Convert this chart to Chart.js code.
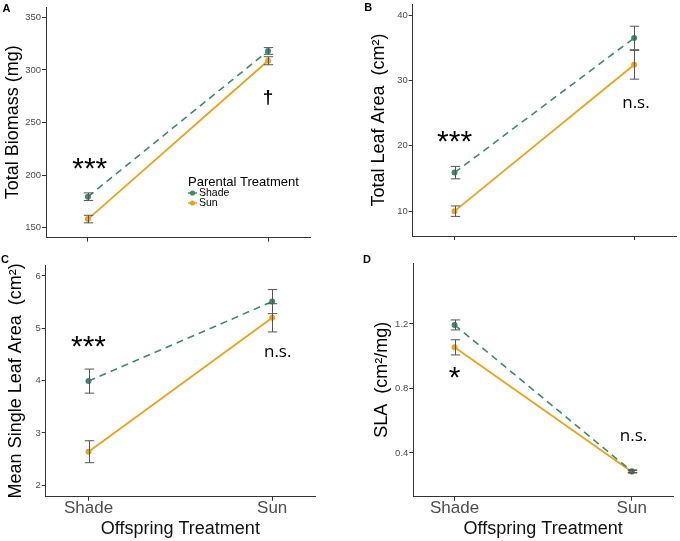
<!DOCTYPE html>
<html><head><meta charset="utf-8">
<script src="https://cdn.jsdelivr.net/npm/chart.js@4.4.1/dist/chart.umd.min.js"></script>
<style>
html,body{margin:0;padding:0;background:#fff;}
#wrap{position:relative;width:680px;height:541px;overflow:hidden;background:#fff;}
canvas{position:absolute;}
</style></head><body>
<div id="wrap">
<canvas id="cA" width="340" height="250" style="left:0;top:0"></canvas>
<canvas id="cB" width="340" height="250" style="left:340px;top:0"></canvas>
<canvas id="cC" width="340" height="291" style="left:0;top:250px"></canvas>
<canvas id="cD" width="340" height="291" style="left:340px;top:250px"></canvas>
</div>
<script>
// ---------- data ----------
const categories = ['Shade', 'Sun'];            // offspring treatment
const parentalTreatments = ['Shade', 'Sun'];    // legend / series

const biomassShade   = [179.5, 318.0];
const biomassShadeSE = [3.6, 3.2];
const biomassSun     = [158.2, 308.7];
const biomassSunSE   = [3.6, 3.8];
const biomassTicks   = [150, 200, 250, 300, 350];

const leafAreaShade   = [15.9, 36.5];
const leafAreaShadeSE = [0.95, 1.8];
const leafAreaSun     = [10.0, 32.4];
const leafAreaSunSE   = [0.8, 2.2];
const leafAreaTicks   = [10, 20, 30, 40];

const singleLeafShade   = [3.99, 5.51];
const singleLeafShadeSE = [0.23, 0.23];
const singleLeafSun     = [2.64, 5.20];
const singleLeafSunSE   = [0.21, 0.27];
const singleLeafTicks   = [2, 3, 4, 5, 6];

const slaShade   = [1.194, 0.287];
const slaShadeSE = [0.031, 0.008];
const slaSun     = [1.055, 0.284];
const slaSunSE   = [0.047, 0.008];
const slaTicks   = [0.4, 0.8, 1.2];

// ---------- styling ----------
const SHADE = '#3b8a6e';
const SUN = '#e9a31c';
const ERR = '#555555';
const AXIS = '#333333';
const TICKTXT = '#4d4d4d';
const FAM = '"Liberation Sans", Arial, sans-serif';

function makePanel(id, o) {
  const overlay = {
    id: 'overlay_' + id,
    afterDatasetsDraw(chart) {
      const ctx = chart.ctx, xs = chart.scales.x, ys = chart.scales.y;
      ctx.save();
      // error bars
      chart.data.datasets.forEach(ds => {
        ds.data.forEach((p, i) => {
          const e = ds.se[i];
          const px = Math.round(xs.getPixelForValue(p.x)) + 0.5;
          const y1 = ys.getPixelForValue(p.y - e), y2 = ys.getPixelForValue(p.y + e);
          ctx.strokeStyle = ERR; ctx.lineWidth = 1;
          ctx.beginPath();
          ctx.moveTo(px, y1); ctx.lineTo(px, y2);
          ctx.moveTo(px - 4.7, y1); ctx.lineTo(px + 4.7, y1);
          ctx.moveTo(px - 4.7, y2); ctx.lineTo(px + 4.7, y2);
          ctx.stroke();
        });
      });
      // annotations (significance)
      o.notes.forEach(n => {
        ctx.font = n.font;
        ctx.fillStyle = '#000';
        ctx.textAlign = 'center';
        ctx.textBaseline = 'alphabetic';
        const m = ctx.measureText(n.text);
        const cx = xs.getPixelForValue(n.x);
        const cy = ys.getPixelForValue(n.y);
        const by = cy + (m.actualBoundingBoxAscent - m.actualBoundingBoxDescent) / 2;
        ctx.fillText(n.text, cx, by);
      });
      // panel letter
      ctx.font = 'bold 11px ' + FAM;
      ctx.fillStyle = '#000';
      ctx.textAlign = 'left';
      ctx.textBaseline = 'alphabetic';
      ctx.fillText(o.letter, o.letterX, o.letterY);
      // legend
      if (o.legend) {
        const L = o.legend;
        ctx.font = '13px ' + FAM;
        ctx.textBaseline = 'middle';
        ctx.fillStyle = '#000';
        ctx.fillText('Parental Treatment', L.x, L.y);
        const cols = [SHADE, SUN];
        parentalTreatments.forEach((name, i) => {
          const yy = L.y + 11 + i * 10;
          ctx.strokeStyle = cols[i]; ctx.lineWidth = 1.5;
          ctx.beginPath(); ctx.moveTo(L.x, yy); ctx.lineTo(L.x + 9, yy); ctx.stroke();
          ctx.fillStyle = cols[i];
          ctx.beginPath(); ctx.arc(L.x + 4.5, yy, 2.6, 0, Math.PI * 2); ctx.fill();
          ctx.fillStyle = '#000';
          ctx.font = '10.5px ' + FAM;
          ctx.fillText(name, L.x + 11, yy + 0.5);
        });
      }
      ctx.restore();
    }
  };

  const mk = (vals) => vals.map((v, i) => ({ x: i, y: v }));
  return new Chart(document.getElementById(id), {
    type: 'line',
    data: {
      datasets: [
        { label: parentalTreatments[0], data: mk(o.shade), se: o.shadeSE,
          borderColor: SHADE, backgroundColor: SHADE, borderWidth: 1.6, borderDash: [7, 5],
          pointRadius: 3, pointBorderWidth: 0, pointBackgroundColor: SHADE, tension: 0, order: 1 },
        { label: parentalTreatments[1], data: mk(o.sun), se: o.sunSE,
          borderColor: SUN, backgroundColor: SUN, borderWidth: 1.8,
          pointRadius: 3, pointBorderWidth: 0, pointBackgroundColor: SUN, tension: 0, order: 2 }
      ]
    },
    options: {
      responsive: false,
      animation: false,
      events: [],
      layout: { padding: { left: 0, right: o.padR, top: o.padT, bottom: 0 } },
      plugins: { legend: { display: false }, tooltip: { enabled: false }, title: { display: false } },
      scales: {
        x: {
          type: 'linear', min: -0.233, max: 1.233,
          afterBuildTicks: s => { s.ticks = categories.map((c, i) => ({ value: i })); },
          afterFit: s => { s.height = o.xh; s.paddingLeft = 0; s.paddingRight = 0; },
          ticks: { display: o.showX, callback: v => categories[v], color: TICKTXT,
                   font: { family: FAM, size: 17 }, padding: o.xTickPad, maxRotation: 0, autoSkip: false },
          grid: { display: true, drawOnChartArea: false, drawTicks: true, tickLength: 4, tickColor: AXIS, lineWidth: 1 },
          border: { display: true, color: AXIS, width: 1 },
          title: { display: o.showX, text: 'Offspring Treatment', color: '#111',
                   font: { family: FAM, size: 18 }, padding: { top: 0, bottom: 1 } }
        },
        y: {
          type: 'linear', min: o.ymin, max: o.ymax,
          afterBuildTicks: s => { s.ticks = o.ticks.map(v => ({ value: v })); },
          afterFit: s => { s.width = o.yw; s.paddingTop = 0; s.paddingBottom = 0; },
          ticks: { callback: v => String(v), color: TICKTXT, font: { family: FAM, size: 9.5 }, padding: 1 },
          grid: { display: true, drawOnChartArea: false, drawTicks: true, tickLength: 4, tickColor: AXIS, lineWidth: 1 },
          border: { display: true, color: AXIS, width: 1 },
          title: { display: true, text: o.ytitle, color: '#000',
                   font: { family: FAM, size: 18 }, padding: { top: o.yTitlePad, bottom: 0 } }
        }
      }
    },
    plugins: [overlay]
  });
}

const STAR = '30px ' + FAM;
const NS = '17px "Open Sans", sans-serif';
const DAG = 'bold 19px ' + FAM;

makePanel('cA', {
  shade: biomassShade, shadeSE: biomassShadeSE, sun: biomassSun, sunSE: biomassSunSE,
  ticks: biomassTicks, ymin: 140.5, ymax: 359.8, ytitle: 'Total Biomass (mg)',
  yw: 46, xh: 12.3, padR: 30, padT: 7, yTitlePad: 2.2, showX: false, xTickPad: 0,
  letter: 'A', letterX: 2.5, letterY: 11.7,
  notes: [{ text: '***', x: 0.01, y: 211.5, font: STAR }, { text: '\u2020', x: 1.0, y: 273.3, font: DAG }],
  legend: { x: 188, y: 182 }
});
makePanel('cB', {
  shade: leafAreaShade, shadeSE: leafAreaShadeSE, sun: leafAreaSun, sunSE: leafAreaSunSE,
  ticks: leafAreaTicks, ymin: 6.2, ymax: 41.7, ytitle: 'Total Leaf Area  (cm\u00B2)',
  yw: 72.7, xh: 14, padR: 3.3, padT: 3.3, yTitlePad: 28.7, showX: false, xTickPad: 0,
  letter: 'B', letterX: 24.3, letterY: 10.7,
  notes: [{ text: '***', x: 0.0, y: 21.45, font: STAR }, { text: 'n.s.', x: 1.01, y: 26.5, font: NS }]
});
makePanel('cC', {
  shade: singleLeafShade, shadeSE: singleLeafShadeSE, sun: singleLeafSun, sunSE: singleLeafSunSE,
  ticks: singleLeafTicks, ymin: 1.78, ymax: 6.21, ytitle: 'Mean Single Leaf Area  (cm\u00B2)',
  yw: 45.7, xh: 44.3, padR: 25, padT: 15, yTitlePad: 5.2, showX: true, xTickPad: -3,
  letter: 'C', letterX: 1, letterY: 13.3,
  notes: [{ text: '***', x: 0.0, y: 4.75, font: STAR }, { text: 'n.s.', x: 1.03, y: 4.54, font: NS }]
});
makePanel('cD', {
  shade: slaShade, shadeSE: slaShadeSE, sun: slaSun, sunSE: slaSunSE,
  ticks: slaTicks, ymin: 0.129, ymax: 1.578, ytitle: 'SLA  (cm\u00B2/mg)',
  yw: 73.3, xh: 44.3, padR: 7, padT: 13, yTitlePad: 31, showX: true, xTickPad: -3,
  letter: 'D', letterX: 23, letterY: 13.3,
  notes: [{ text: '*', x: 0.0, y: 0.896, font: STAR }, { text: 'n.s.', x: 1.01, y: 0.501, font: NS }]
});
</script>
</body></html>
